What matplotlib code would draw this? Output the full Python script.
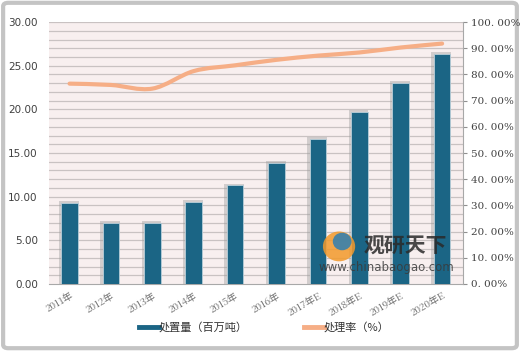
import matplotlib
matplotlib.use("Agg")
import matplotlib.pyplot as plt
from matplotlib.path import Path
from matplotlib.patches import PathPatch, FancyBboxPatch, Ellipse
from matplotlib.lines import Line2D
import numpy as np

plt.rcParams['font.family'] = ['Noto Sans CJK SC', 'DejaVu Sans']

categories = ['2011年', '2012年', '2013年', '2014年', '2015年', '2016年',
              '2017年E', '2018年E', '2019年E', '2020年E']
volume = [9.3, 7.0, 7.0, 9.4, 11.3, 13.9, 16.6, 19.7, 23.0, 26.4]
rate = [76.5, 76.0, 74.6, 81.3, 83.5, 85.6, 87.2, 88.4, 90.3, 91.8]
left_ticks = [0, 5, 10, 15, 20, 25, 30]
right_ticks = [0, 10, 20, 30, 40, 50, 60, 70, 80, 90, 100]
legend_labels = ['处置量（百万吨）', '处理率（%）']

bar_color = '#1B6585'
line_color = '#F6AE86'

fig = plt.figure(figsize=(5.2, 3.51), dpi=100)
fig.patch.set_facecolor('white')
# outer frame
frame = FancyBboxPatch((0.006, 0.008), 0.988, 0.984, boxstyle='round,pad=0,rounding_size=0.01',
                       transform=fig.transFigure, facecolor='white', edgecolor='#C4C4C4',
                       linewidth=3, zorder=-10)
fig.patches.append(frame)

ax = fig.add_axes([0.094, 0.191, 0.796, 0.746])
ax.set_facecolor('#F8EFEF')
x = np.arange(len(categories))
ax.set_xlim(-0.5, len(categories) - 0.5)
ax.set_ylim(0, 30)

for yv in np.arange(1, 31, 1):
    ax.axhline(yv, color='#C9C2C2', linewidth=0.9, zorder=1)

# shadows
ax.bar(x - 0.02, [v + 0.2 for v in volume], width=0.48, color='#9A9A9A', alpha=0.4,
       zorder=2, linewidth=0)
ax.bar(x, volume, width=0.4, color=bar_color, edgecolor='#B9CFDA', linewidth=0.6, zorder=3)

ax.set_yticks(left_ticks)
ax.set_yticklabels([f'{t:.2f}' for t in left_ticks], fontsize=7.5, color='#404040',
                   family='DejaVu Sans')
ax.tick_params(axis='y', length=0, pad=8)
ax.set_xticks(x)
ax.set_xticklabels(categories, rotation=30, fontsize=7, color='#6A6A6A',
                   family=['Noto Serif CJK SC', 'Noto Sans CJK SC', 'DejaVu Serif'], ha='right',
                   rotation_mode='anchor')
ax.tick_params(axis='x', length=0, pad=5)
for s in ['left', 'top']:
    ax.spines[s].set_visible(False)
ax.spines['bottom'].set_color('#A8A8A8')
ax.spines['right'].set_visible(False)

ax2 = ax.twinx()
ax2.set_ylim(0, 100)
ax2.set_yticks(right_ticks)
ax2.set_yticklabels([f'{t:.2f}%'.replace('.', '. ') for t in right_ticks], fontsize=7.5,
                    color='#404040', family='DejaVu Serif')
ax2.tick_params(axis='y', length=3, color='#909090', pad=3)
for s in ['left', 'top', 'bottom']:
    ax2.spines[s].set_visible(False)
ax2.spines['right'].set_color('#A8A8A8')

# smooth line through the data (Catmull-Rom -> cubic bezier)
pts = np.column_stack([x, rate]).astype(float)
verts = [tuple(pts[0])]
codes = [Path.MOVETO]
n = len(pts)
for i in range(n - 1):
    p0 = pts[i - 1] if i > 0 else pts[i]
    p1 = pts[i]
    p2 = pts[i + 1]
    p3 = pts[i + 2] if i + 2 < n else pts[i + 1]
    c1 = p1 + (p2 - p0) / 6.0
    c2 = p2 - (p3 - p1) / 6.0
    verts += [tuple(c1), tuple(c2), tuple(p2)]
    codes += [Path.CURVE4] * 3
ax2.add_patch(PathPatch(Path(verts, codes), facecolor='none', edgecolor=line_color,
                        linewidth=3, capstyle='round', zorder=5))

# watermark
fig.text(0.70, 0.298, '观研天下', fontsize=15, fontweight='bold', color='#2A2A2A', alpha=0.85,
         ha='left', va='center', zorder=20)
fig.text(0.613, 0.238, 'www.chinabaogao.com', fontsize=8.5, color='#3A3A3A', alpha=0.85,
         ha='left', va='center', family='DejaVu Sans', zorder=20)
fig.patches.append(Ellipse((0.652, 0.298), 0.062, 0.085, transform=fig.transFigure,
                           facecolor='#F39A2B', edgecolor='none', alpha=0.85, zorder=20))
fig.patches.append(Ellipse((0.658, 0.312), 0.036, 0.05, transform=fig.transFigure,
                           facecolor='#2D7FB3', edgecolor='none', alpha=0.85, zorder=21))

handles = [Line2D([0], [0], color=bar_color, linewidth=3.5),
           Line2D([0], [0], color=line_color, linewidth=3.5)]
fig.legend(handles, legend_labels, loc='center', bbox_to_anchor=(0.508, 0.068), ncol=2,
           frameon=False, fontsize=8, handlelength=1.8, handletextpad=0.0,
           columnspacing=5, labelcolor='#333333')

fig.savefig('out.png', dpi=100, facecolor='white')
